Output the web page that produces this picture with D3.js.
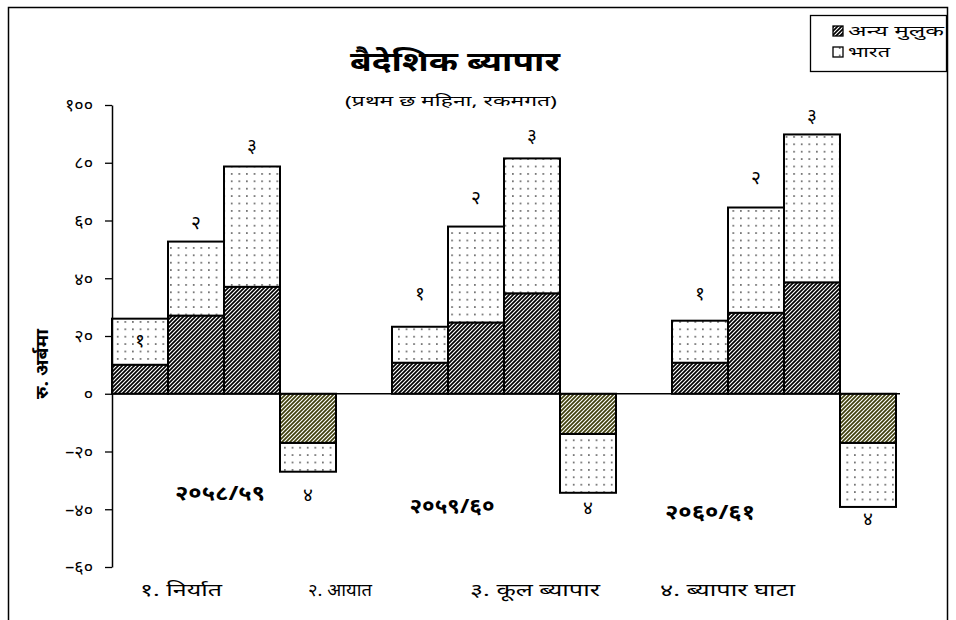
<!DOCTYPE html>
<html><head><meta charset="utf-8">
<script src="https://cdn.jsdelivr.net/npm/d3@7"></script>
<style>
body{margin:0;background:#fff;}
text{font-family:"Noto Sans","DejaVu Sans",sans-serif;}
</style></head>
<body><svg id="c" width="956" height="620"></svg>
<script>
// ---- data ----
const groups = ["२०५८/५९", "२०५९/६०", "२०६०/६१"];
const categories = ["१. निर्यात", "२. आयात", "३. कूल ब्यापार", "४. ब्यापार घाटा"];
const barLabels = ["१", "२", "३", "४"];
const seriesNames = ["अन्य मुलुक", "भारत"];
const otherCountries = [[10, 27, 37, -17], [10.7, 24.6, 34.7, -13.9], [10.7, 28, 38.5, -17]];
const india = [[16, 25.7, 41.7, -10], [12.5, 33.3, 46.8, -20.4], [14.6, 36.5, 51.3, -22.2]];
const yTicks = [-60, -40, -20, 0, 20, 40, 60, 80, 100];
const title = "बैदेशिक ब्यापार";
const subtitle = "(प्रथम छ महिना, रकमगत)";
const yTitle = "रु. अर्बमा";

// ---- layout (not data) ----
const labelAt = [[18.4, 59.3, 86, -34.7], [34.7, 68, 89.4, -39.2], [34.7, 74.9, 96.4, -43.3]];
const yearPos = [{dx: 108, v: -34.5}, {dx: 60, v: -38.8}, {dx: 38, v: -40.8}];
const yearW = [90, 85, 90];
const catX = [140, 308, 470, 660];
const catW = [82, 64, 130, 135];
const legW = [96, 42];

const deva = n => String(n).replace(/[0-9]/g, d => "०१२३४५६७८९"[+d]).replace("-", "–");

const svg = d3.select("#c");
const defs = svg.append("defs");
function hatch(id, color) {
  const p = defs.append("pattern").attr("id", id).attr("patternUnits", "userSpaceOnUse")
    .attr("width", 4).attr("height", 4);
  p.append("rect").attr("width", 4).attr("height", 4).attr("fill", "#fff");
  p.append("path").attr("d", "M-1,1 L1,-1 M0,4 L4,0 M3,5 L5,3")
    .attr("stroke", color).attr("stroke-width", 1.7);
}
hatch("hatchK", "#000");
hatch("hatchO", "#3f3f0c");
const dp = defs.append("pattern").attr("id", "dots").attr("patternUnits", "userSpaceOnUse")
  .attr("width", 7.6).attr("height", 7.4);
dp.append("rect").attr("width", 7.6).attr("height", 7.4).attr("fill", "#fff");
dp.append("rect").attr("x", 3).attr("y", 3).attr("width", 1.4).attr("height", 1.4).attr("fill", "#222");

// frame
svg.append("rect").attr("x", 8.5).attr("y", 7.5).attr("width", 939).attr("height", 620)
  .attr("fill", "none").attr("stroke", "#000").attr("stroke-width", 1.5);

const y = d3.scaleLinear().domain([-60, 100]).range([567, 105]);
const gx = d3.scaleBand().domain(groups).range([112, 952]).padding(0);
const bx = d3.scaleBand().domain([0, 1, 2, 3, 4]).range([0, gx.bandwidth()]);

// bars
groups.forEach((g, gi) => {
  const G = svg.append("g");
  categories.forEach((c, ci) => {
    const o = otherCountries[gi][ci], ind = india[gi][ci];
    const x0 = gx(g) + bx(ci), w = bx.bandwidth();
    const neg = o < 0;
    G.append("rect").attr("x", x0).attr("width", w)
      .attr("y", y(Math.max(o, o + ind))).attr("height", Math.abs(y(o) - y(o + ind)))
      .attr("fill", "url(#dots)").attr("stroke", "#000").attr("stroke-width", 2);
    G.append("rect").attr("x", x0).attr("width", w)
      .attr("y", y(Math.max(0, o))).attr("height", Math.abs(y(0) - y(o)))
      .attr("fill", neg ? "url(#hatchO)" : "url(#hatchK)").attr("stroke", "#000").attr("stroke-width", 2);
    G.append("text").attr("x", x0 + w / 2).attr("y", y(labelAt[gi][ci])).attr("dy", "0.35em")
      .attr("text-anchor", "middle").attr("font-size", 19).text(barLabels[ci]);
  });
  svg.append("text").attr("x", gx(g) + yearPos[gi].dx).attr("y", y(yearPos[gi].v)).attr("dy", "0.35em")
    .attr("text-anchor", "middle").attr("font-size", 20).attr("font-weight", "bold")
    .attr("textLength", yearW[gi]).attr("lengthAdjust", "spacingAndGlyphs").text(g);
});

// zero line
svg.append("line").attr("x1", 112).attr("x2", 900).attr("y1", y(0)).attr("y2", y(0))
  .attr("stroke", "#000").attr("stroke-width", 1.5);

// y axis
const ax = svg.append("g").attr("transform", "translate(112,0)")
  .call(d3.axisLeft(y).tickValues(yTicks).tickSize(7).tickSizeOuter(0).tickPadding(12).tickFormat(deva));
ax.select(".domain").attr("stroke-width", 1.5);
ax.selectAll(".tick line").attr("stroke-width", 1.3);
ax.selectAll("text").attr("font-size", 18).attr("font-family", "'Noto Sans','DejaVu Sans',sans-serif").attr("fill", "#000");

svg.append("text").attr("transform", "translate(42,364) rotate(-90)").attr("dy", "0.35em")
  .attr("text-anchor", "middle").attr("font-size", 17).attr("font-weight", "bold")
  .attr("textLength", 70).attr("lengthAdjust", "spacingAndGlyphs").text(yTitle);

// titles
svg.append("text").attr("x", 455).attr("y", 62).attr("dy", "0.35em").attr("text-anchor", "middle")
  .attr("font-size", 27).attr("font-weight", "bold")
  .attr("textLength", 210).attr("lengthAdjust", "spacingAndGlyphs").text(title);
svg.append("text").attr("x", 451).attr("y", 101).attr("dy", "0.35em").attr("text-anchor", "middle")
  .attr("font-size", 15).attr("textLength", 212).attr("lengthAdjust", "spacingAndGlyphs").text(subtitle);

// bottom category key
categories.forEach((c, i) => {
  svg.append("text").attr("x", catX[i]).attr("y", 590).attr("dy", "0.35em")
    .attr("font-size", 17).attr("textLength", catW[i]).attr("lengthAdjust", "spacingAndGlyphs").text(c);
});

// legend
const L = svg.append("g");
L.append("rect").attr("x", 810.5).attr("y", 15.5).attr("width", 136).attr("height", 56)
  .attr("fill", "#fff").attr("stroke", "#000").attr("stroke-width", 1.3);
seriesNames.forEach((s, i) => {
  const yy = 31 + i * 21;
  L.append("rect").attr("x", 833).attr("y", yy - 5).attr("width", 10).attr("height", 10)
    .attr("fill", i === 0 ? "url(#hatchK)" : "url(#dots)").attr("stroke", "#000").attr("stroke-width", 1.3);
  L.append("text").attr("x", 848).attr("y", yy).attr("dy", "0.35em").attr("font-size", 15)
    .attr("textLength", legW[i]).attr("lengthAdjust", "spacingAndGlyphs").text(s);
});
</script></body></html>
